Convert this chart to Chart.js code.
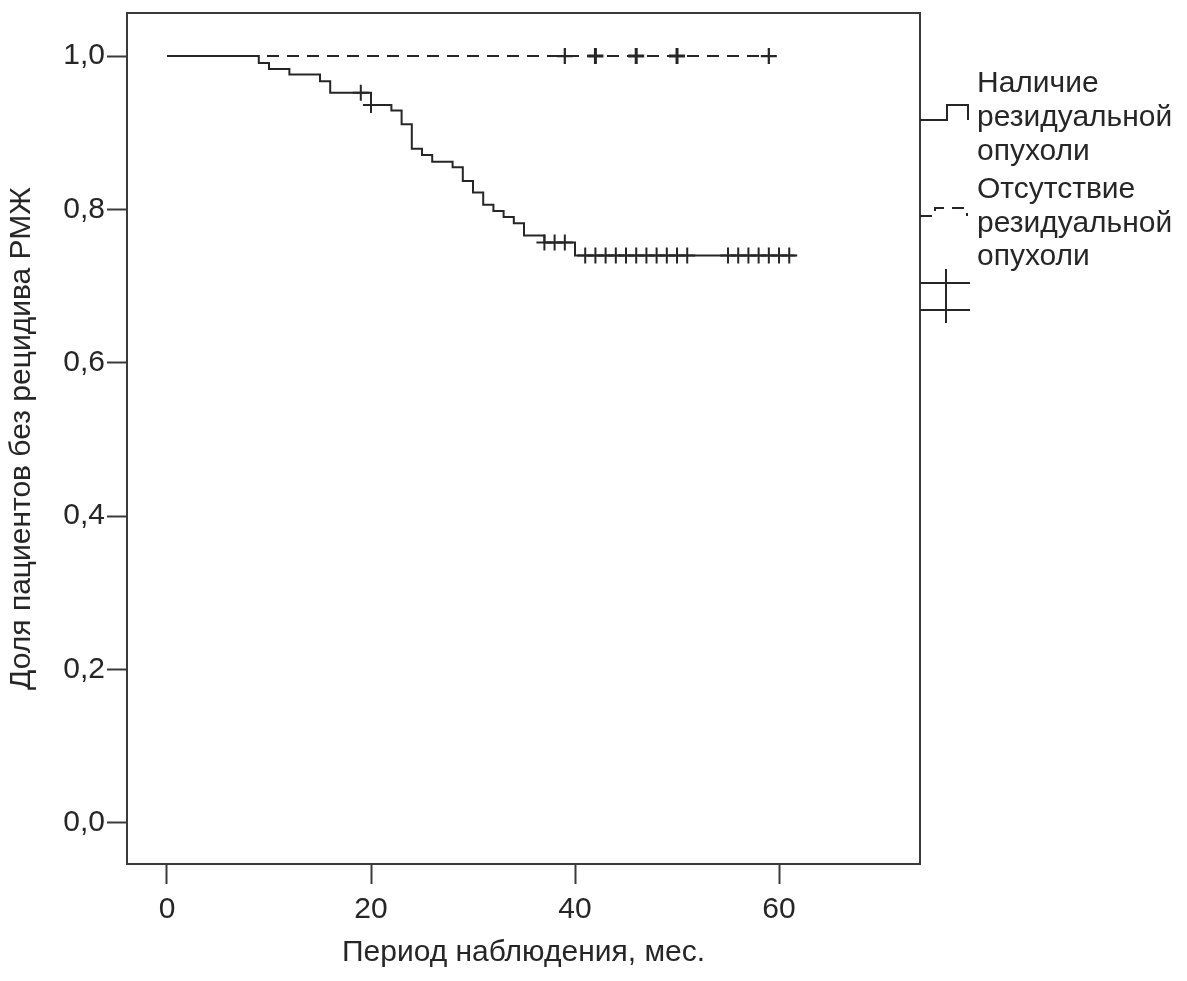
<!DOCTYPE html>
<html lang="ru">
<head>
<meta charset="utf-8">
<title>Безрецидивная выживаемость</title>
<script src="https://cdn.jsdelivr.net/npm/chart.js@4.4.1/dist/chart.umd.min.js"></script>
<style>
  html, body { margin: 0; padding: 0; background: #fff; }
  #wrap { width: 1187px; height: 981px; }
</style>
</head>
<body>
<div id="wrap"><canvas id="kmChart"></canvas></div>
<script>
// группа 1: наличие резидуальной опухоли (ступени кривой)
var residTime = [0, 9, 10, 12, 15, 16, 20, 22, 23, 24, 25, 26, 28, 29, 30, 31, 32, 33, 34, 35, 37, 40, 61.6];
var residSurv = [1.0, 0.991, 0.983, 0.976, 0.967, 0.952, 0.936, 0.929, 0.911, 0.879, 0.871, 0.862, 0.855, 0.837,
                 0.822, 0.806, 0.798, 0.790, 0.782, 0.766, 0.757, 0.740, 0.740];
// группа 1: цензурированные наблюдения
var residCensTime = [19, 20, 37, 38, 39, 41, 42, 43, 44, 45, 46, 47, 48, 49, 50, 51, 55, 56, 57, 58, 59, 60, 61];
var residCensSurv = [0.952, 0.936, 0.757, 0.757, 0.757, 0.740, 0.740, 0.740, 0.740, 0.740, 0.740, 0.740,
                     0.740, 0.740, 0.740, 0.740, 0.740, 0.740, 0.740, 0.740, 0.740, 0.740, 0.740];

// группа 2: отсутствие резидуальной опухоли
var noneTime = [0, 59];
var noneSurv = [1.0, 1.0];
var noneCensTime = [39, 42, 46, 50, 59];
var noneCensSurv = [1.0, 1.0, 1.0, 1.0, 1.0];
var noneCensCount = [1, 2, 2, 2, 1];

var xTickValues = [0, 20, 40, 60];
var xTickLabels = ['0', '20', '40', '60'];
var yTickValues = [0, 0.2, 0.4, 0.6, 0.8, 1.0];
var yTickLabels = ['0,0', '0,2', '0,4', '0,6', '0,8', '1,0'];

var xTitle = 'Период наблюдения, мес.';
var yTitle = 'Доля пациентов без рецидива РМЖ';
var legendLines = [
    ['Наличие', 'резидуальной', 'опухоли'],
    ['Отсутствие', 'резидуальной', 'опухоли']
];

var ink = '#262626';

function pts(xs, ys) {
    return xs.map(function(x, i) { return {x: x, y: ys[i]}; });
}

Chart.defaults.font.family = "'Liberation Sans', Arial, sans-serif";
Chart.defaults.font.size = 30;
Chart.defaults.color = ink;

// рамка вокруг области графика
var frame = {
    id: 'frame',
    beforeDatasetsDraw: function(chart) {
        var a = chart.chartArea, ctx = chart.ctx;
        ctx.save();
        ctx.strokeStyle = '#3a3a3a';
        ctx.lineWidth = 2;
        ctx.strokeRect(a.left, a.top, a.right - a.left, a.bottom - a.top);
        ctx.restore();
    }
};

// легенда справа, как в SPSS
var kmLegend = {
    id: 'kmLegend',
    afterDraw: function(chart) {
        var ctx = chart.ctx;
        var x0 = chart.chartArea.right;
        ctx.save();
        ctx.strokeStyle = ink;
        ctx.lineWidth = 2;

        // сплошная ступень
        ctx.beginPath();
        ctx.moveTo(x0, 120);
        ctx.lineTo(x0 + 27, 120);
        ctx.lineTo(x0 + 27, 105);
        ctx.lineTo(x0 + 48, 105);
        ctx.lineTo(x0 + 48, 120);
        ctx.stroke();

        // пунктирная ступень
        ctx.setLineDash([12, 8]);
        ctx.beginPath();
        ctx.moveTo(x0, 216);
        ctx.lineTo(x0 + 15, 216);
        ctx.lineTo(x0 + 15, 208);
        ctx.lineTo(x0 + 47, 208);
        ctx.lineTo(x0 + 47, 216);
        ctx.stroke();
        ctx.setLineDash([]);

        // значки цензурирования
        [283, 310].forEach(function(y) {
            ctx.beginPath();
            ctx.moveTo(x0, y);
            ctx.lineTo(x0 + 50, y);
            ctx.moveTo(x0 + 26, y - 14);
            ctx.lineTo(x0 + 26, y + 13);
            ctx.stroke();
        });

        ctx.fillStyle = ink;
        ctx.font = "30px 'Liberation Sans', Arial, sans-serif";
        ctx.textAlign = 'left';
        ctx.textBaseline = 'alphabetic';
        var baselines = [[92, 126, 160], [198, 232, 265]];
        legendLines.forEach(function(group, g) {
            group.forEach(function(line, i) {
                ctx.fillText(line, x0 + 57, baselines[g][i]);
            });
        });
        ctx.restore();
    }
};

var ctx = document.getElementById('kmChart');
var kmChart = new Chart(ctx, {
    type: 'line',
    data: {
        datasets: [{
            label: 'Отсутствие резидуальной опухоли',
            data: pts(noneTime, noneSurv),
            stepped: 'before',
            borderColor: ink,
            borderWidth: 2,
            borderDash: [12, 8],
            pointRadius: 0,
            fill: false
        }, {
            label: 'Наличие резидуальной опухоли',
            data: pts(residTime, residSurv),
            stepped: 'before',
            borderColor: ink,
            borderWidth: 2,
            pointRadius: 0,
            fill: false
        }, {
            type: 'scatter',
            label: 'Отсутствие — цензурированные',
            data: pts(noneCensTime, noneCensSurv),
            showLine: false,
            pointStyle: 'cross',
            pointRadius: 8,
            pointBorderColor: ink,
            pointBorderWidth: function(c) { return 1.5 + (noneCensCount[c.dataIndex] || 1) * 0.75; }
        }, {
            type: 'scatter',
            label: 'Наличие — цензурированные',
            data: pts(residCensTime, residCensSurv),
            showLine: false,
            pointStyle: 'cross',
            pointRadius: 8,
            pointBorderColor: ink,
            pointBorderWidth: 2
        }]
    },
    options: {
        responsive: true,
        maintainAspectRatio: false,
        animation: false,
        events: [],
        layout: {
            padding: {left: 0, right: 267, top: 13, bottom: 0}
        },
        plugins: {
            legend: {display: false},
            tooltip: {enabled: false}
        },
        scales: {
            x: {
                type: 'linear',
                min: -3.92,
                max: 73.82,
                border: {display: false},
                grid: {
                    drawOnChartArea: false,
                    drawTicks: true,
                    tickLength: 20,
                    tickColor: '#3a3a3a',
                    tickWidth: 2
                },
                afterBuildTicks: function(scale) {
                    scale.ticks = xTickValues.map(function(v) { return {value: v}; });
                },
                afterFit: function(scale) {
                    scale.height = 117;
                    scale.paddingLeft = 0;
                    scale.paddingRight = 0;
                },
                ticks: {
                    padding: 8,
                    maxRotation: 0,
                    callback: function(v, i) { return xTickLabels[i]; }
                },
                title: {
                    display: true,
                    text: xTitle,
                    padding: {top: 0, bottom: 10}
                }
            },
            y: {
                type: 'linear',
                min: -0.0535,
                max: 1.0561,
                border: {display: false},
                grid: {
                    drawOnChartArea: false,
                    drawTicks: true,
                    tickLength: 20,
                    tickColor: '#3a3a3a',
                    tickWidth: 2
                },
                afterBuildTicks: function(scale) {
                    scale.ticks = yTickValues.map(function(v) { return {value: v}; });
                },
                afterFit: function(scale) {
                    scale.width = 127;
                    scale.paddingTop = 0;
                    scale.paddingBottom = 0;
                },
                ticks: {
                    padding: 2,
                    callback: function(v, i) { return yTickLabels[i]; }
                },
                title: {
                    display: true,
                    text: yTitle,
                    padding: {top: 4, bottom: 0}
                }
            }
        }
    },
    plugins: [frame, kmLegend]
});
</script>
</body>
</html>
